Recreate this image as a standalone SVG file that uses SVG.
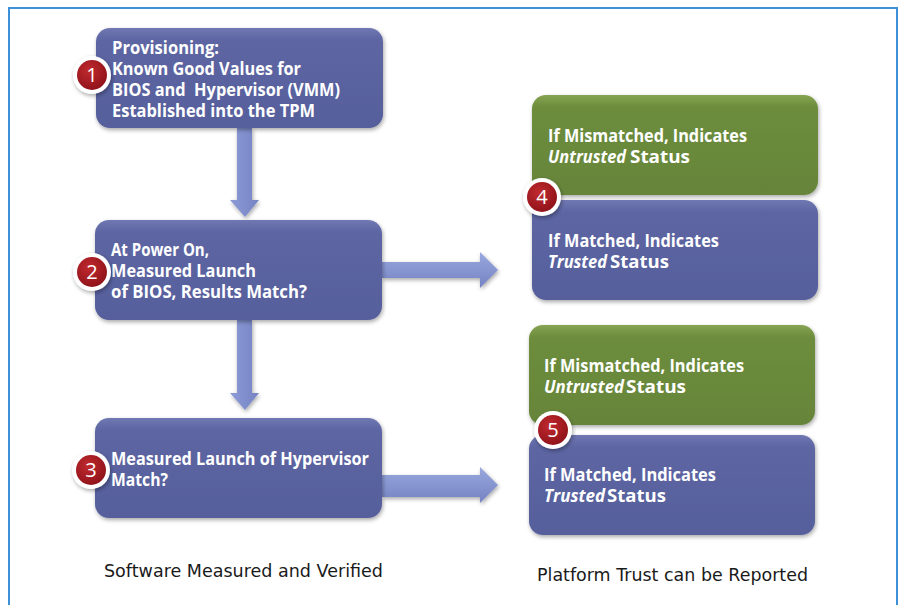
<svg xmlns="http://www.w3.org/2000/svg" width="902" height="605" viewBox="0 0 902 605">
<defs>
<linearGradient id="gBlue" x1="0" y1="0" x2="0" y2="1">
<stop offset="0" stop-color="#7078b2"/>
<stop offset="0.12" stop-color="#5d66a3"/>
<stop offset="1" stop-color="#565f9c"/>
</linearGradient>
<linearGradient id="gGreen" x1="0" y1="0" x2="0" y2="1">
<stop offset="0" stop-color="#86a452"/>
<stop offset="0.12" stop-color="#6d8d3c"/>
<stop offset="1" stop-color="#66853a"/>
</linearGradient>
<linearGradient id="gArrowV" x1="0" y1="0" x2="1" y2="0">
<stop offset="0" stop-color="#8c9bd6"/>
<stop offset="1" stop-color="#7583c4"/>
</linearGradient>
<linearGradient id="gArrowH" x1="0" y1="0" x2="0" y2="1">
<stop offset="0" stop-color="#9aa8de"/>
<stop offset="1" stop-color="#7482c3"/>
</linearGradient>
<radialGradient id="gBadge" cx="0.4" cy="0.35" r="0.7">
<stop offset="0" stop-color="#c02a2e"/>
<stop offset="1" stop-color="#8e1219"/>
</radialGradient>
<filter id="sh" x="-10%" y="-10%" width="120%" height="130%">
<feGaussianBlur in="SourceAlpha" stdDeviation="2"/>
<feOffset dx="1" dy="2" result="b"/>
<feComponentTransfer><feFuncA type="linear" slope="0.35"/></feComponentTransfer>
<feMerge><feMergeNode/><feMergeNode in="SourceGraphic"/></feMerge>
</filter>
</defs>
<style>
.blue{fill:url(#gBlue);filter:url(#sh)}
.green{fill:url(#gGreen);filter:url(#sh)}
.t{font-family:"Open Sans","Liberation Sans",sans-serif;font-weight:bold;font-size:17px;fill:#ffffff}
.i{font-style:italic}
.cap{font-family:"DejaVu Sans","Liberation Sans",sans-serif;font-size:18px;fill:#1a1a1a}
.ring{fill:#ffffff;filter:url(#sh)}
.dot{fill:url(#gBadge)}
.num{font-family:"Open Sans","Liberation Sans",sans-serif;font-size:20px;fill:#ffffff;text-anchor:middle}
.av{fill:url(#gArrowV);filter:url(#sh)}
.ah{fill:url(#gArrowH);filter:url(#sh)}
</style>
<rect x="0" y="0" width="902" height="605" fill="#ffffff"/>
<rect x="9" y="8" width="888" height="610" fill="none" stroke="#3d8fd8" stroke-width="2"/>

<g id="connectors">
<path class="av" d="M237,128 H252 V200 H259 L245,217 L230,200 H237 Z"/>
<path class="av" d="M237,320 H252 V393 H259 L245,410 L230,393 H237 Z"/>
<path class="ah" d="M382,262 H480 V252 L498,270 L480,288 V278 H382 Z"/>
<path class="ah" d="M382,475 H480 V467 L498,485 L480,503 V497 H382 Z"/>
</g>

<g id="node1">
<rect class="blue" x="96" y="28" width="287" height="100" rx="14"/>
<text class="t" x="112" y="54" textLength="107" lengthAdjust="spacingAndGlyphs">Provisioning:</text>
<text class="t" x="112" y="75" textLength="189" lengthAdjust="spacingAndGlyphs">Known Good Values for</text>
<text class="t" x="112" y="96" textLength="228" lengthAdjust="spacingAndGlyphs">BIOS and&#160; Hypervisor (VMM)</text>
<text class="t" x="112" y="117" textLength="203" lengthAdjust="spacingAndGlyphs">Established into the TPM</text>
</g>
<g id="badge1"><circle class="ring" cx="92" cy="75" r="19"/><circle class="dot" cx="92" cy="75" r="15"/><text class="num" x="92" y="82">1</text></g>

<g id="node2">
<rect class="blue" x="95" y="220" width="287" height="100" rx="14"/>
<text class="t" x="111" y="256" textLength="98" lengthAdjust="spacingAndGlyphs">At Power On,</text>
<text class="t" x="111" y="277" textLength="145" lengthAdjust="spacingAndGlyphs">Measured Launch</text>
<text class="t" x="111" y="298" textLength="196" lengthAdjust="spacingAndGlyphs">of BIOS, Results Match?</text>
</g>
<g id="badge2"><circle class="ring" cx="92" cy="272" r="19"/><circle class="dot" cx="92" cy="272" r="15"/><text class="num" x="92" y="279">2</text></g>

<g id="node3">
<rect class="blue" x="95" y="418" width="287" height="100" rx="14"/>
<text class="t" x="111" y="465" textLength="258" lengthAdjust="spacingAndGlyphs">Measured Launch of Hypervisor</text>
<text class="t" x="111" y="486" textLength="57" lengthAdjust="spacingAndGlyphs">Match?</text>
</g>
<g id="badge3"><circle class="ring" cx="91" cy="470" r="19"/><circle class="dot" cx="91" cy="470" r="15"/><text class="num" x="91" y="477">3</text></g>

<g id="node4a">
<rect class="green" x="532" y="95" width="286" height="100" rx="14"/>
<text class="t" x="548" y="142" textLength="199" lengthAdjust="spacingAndGlyphs">If Mismatched, Indicates</text>
<text class="t" x="548" y="163"><tspan class="i" textLength="78" lengthAdjust="spacingAndGlyphs">Untrusted</tspan><tspan x="630" textLength="60" lengthAdjust="spacingAndGlyphs">Status</tspan></text>
</g>
<g id="node4b">
<rect class="blue" x="532" y="200" width="286" height="100" rx="14"/>
<text class="t" x="548" y="247" textLength="171" lengthAdjust="spacingAndGlyphs">If Matched, Indicates</text>
<text class="t" x="548" y="268"><tspan class="i" textLength="59" lengthAdjust="spacingAndGlyphs">Trusted</tspan><tspan x="610" textLength="59" lengthAdjust="spacingAndGlyphs">Status</tspan></text>
</g>
<g id="badge4"><circle class="ring" cx="542" cy="197" r="19"/><circle class="dot" cx="542" cy="197" r="15"/><text class="num" x="542" y="204">4</text></g>

<g id="node5a">
<rect class="green" x="529" y="325" width="286" height="100" rx="14"/>
<text class="t" x="544" y="372" textLength="200" lengthAdjust="spacingAndGlyphs">If Mismatched, Indicates</text>
<text class="t" x="544" y="393"><tspan class="i" textLength="80" lengthAdjust="spacingAndGlyphs">Untrusted</tspan><tspan x="626" textLength="60" lengthAdjust="spacingAndGlyphs">Status</tspan></text>
</g>
<g id="node5b">
<rect class="blue" x="529" y="435" width="286" height="100" rx="14"/>
<text class="t" x="544" y="481" textLength="172" lengthAdjust="spacingAndGlyphs">If Matched, Indicates</text>
<text class="t" x="544" y="502"><tspan class="i" textLength="61" lengthAdjust="spacingAndGlyphs">Trusted</tspan><tspan x="607" textLength="59" lengthAdjust="spacingAndGlyphs">Status</tspan></text>
</g>
<g id="badge5"><circle class="ring" cx="553" cy="430" r="19"/><circle class="dot" cx="553" cy="430" r="15"/><text class="num" x="553" y="437">5</text></g>

<text class="cap" x="104" y="577" textLength="279" lengthAdjust="spacingAndGlyphs">Software Measured and Verified</text>
<text class="cap" x="537" y="581" textLength="271" lengthAdjust="spacingAndGlyphs">Platform Trust can be Reported</text>
</svg>
